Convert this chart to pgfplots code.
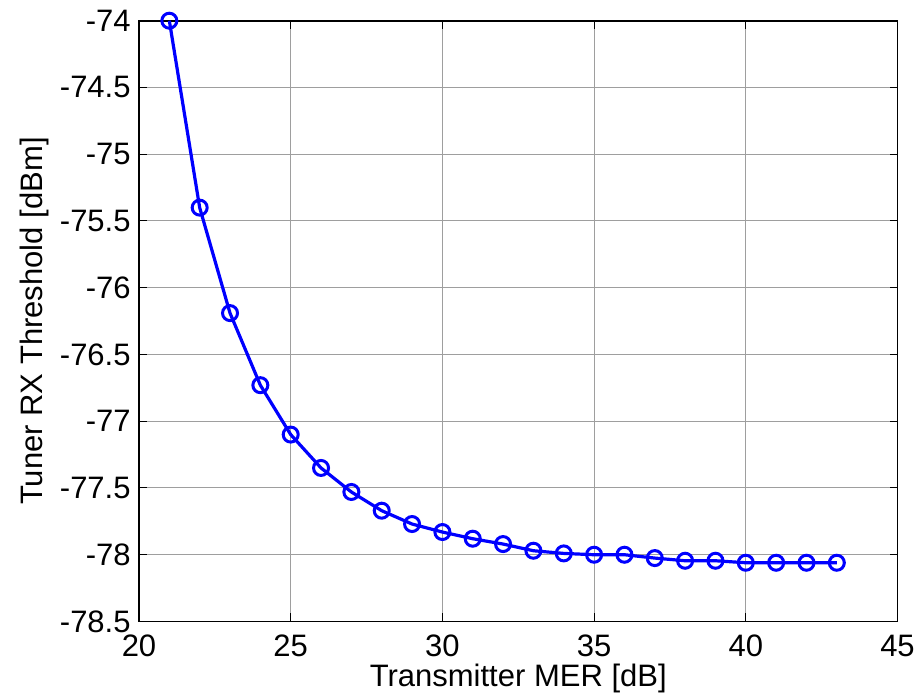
\documentclass[border=0pt]{standalone}
\usepackage{pgfplots}
\pgfplotsset{compat=1.18}
\usepackage{fontspec}
\setmainfont{Liberation Sans}

\definecolor{matblue}{RGB}{0,0,255}
\newcommand{\figfont}{\fontsize{15.5}{18}\selectfont}

\begin{document}
\begin{tikzpicture}
    % fix the page to the reference proportions (1px = 0.5pt)
    \useasboundingbox (-69.5pt,-39.25pt) rectangle (388.5pt,310.75pt);
    \begin{axis}[
        scale only axis,
        width=379.25pt,
        height=300.4pt,
        xmin=20, xmax=45,
        ymin=-78.5, ymax=-74,
        xtick={20,25,...,45},
        ytick={-78.5,-78,...,-74},
        xlabel={Transmitter MER [dB]},
        ylabel={Tuner RX Threshold [dBm]},
        xlabel style={at={(axis description cs:0.5,-0.109)}, anchor=base, inner sep=0pt},
        ylabel style={at={(axis description cs:-0.1266,0.5)}, anchor=base, inner sep=0pt},
        label style={font=\figfont},
        tick label style={font=\figfont},
        /pgf/number format/assume math mode=true,
        xticklabel style={anchor=base, inner sep=0pt, yshift=-17.5pt},
        yticklabel style={anchor=east, inner sep=0pt, xshift=-4pt},
        tick align=inside,
        major tick length=4pt,
        tick style={black, line width=0.5pt},
        grid=major,
        grid style={black!38, line width=0.5pt},
        axis line style={black, line width=0.9pt},
        clip=false,
    ]
    \addplot[color=matblue, line width=1.6pt, mark=o,
             mark size=3.75pt, mark options={line width=1.5pt}] coordinates {
        (21,-74.00)(22,-75.40)(23,-76.19)(24,-76.73)(25,-77.10)
        (26,-77.35)(27,-77.53)(28,-77.67)(29,-77.77)(30,-77.83)
        (31,-77.88)(32,-77.92)(33,-77.97)(34,-77.99)(35,-78.00)
        (36,-78.00)(37,-78.025)(38,-78.045)(39,-78.045)(40,-78.06)
        (41,-78.06)(42,-78.06)(43,-78.06)
    };
    \end{axis}
\end{tikzpicture}
\end{document}
